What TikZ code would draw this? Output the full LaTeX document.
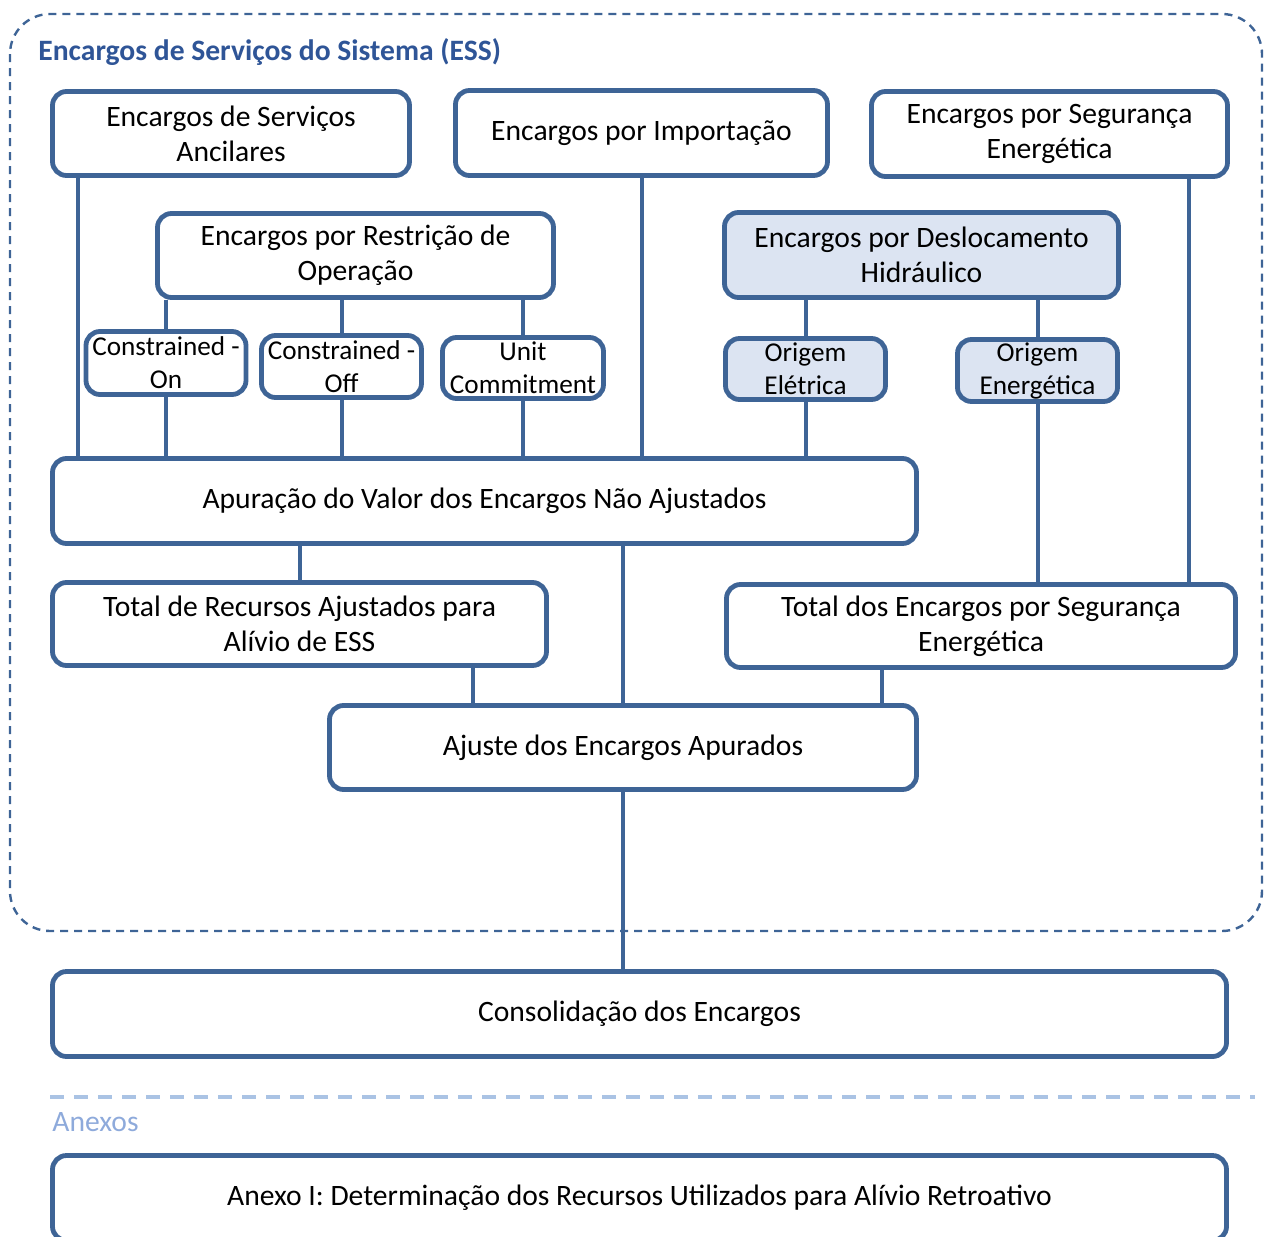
\documentclass[tikz,border=0pt]{standalone}
\usepackage{fontspec}
\setmainfont{Carlito}
\usetikzlibrary{positioning, calc}

\definecolor{essblue}{RGB}{62,100,150}
\definecolor{essfill}{RGB}{220,228,242}
\definecolor{esstitle}{RGB}{47,85,151}
\definecolor{essanx}{RGB}{142,170,219}
\definecolor{essline}{RGB}{170,195,228}

\begin{document}
\begin{tikzpicture}[
    x=0.5pt, y=-0.5pt,
    font=\fontsize{14.8}{17.5}\selectfont,
    box/.style={rectangle, draw=essblue, line width=2.4pt, rounded corners=7pt, align=center, inner sep=0pt},
    hbox/.style={box, fill=essfill},
    sbox/.style={font=\fontsize{13.6}{16.5}\selectfont},
    link/.style={draw=essblue, line width=2pt}
]

\useasboundingbox (0,0) rectangle (1264,1237);

% moldura ESS
\draw[essblue, line width=1.2pt, dash pattern=on 4pt off 3pt, rounded corners=20pt] (10,14) rectangle (1262,931);
\node[anchor=west, inner sep=0pt, text=esstitle, font=\fontsize{14.8}{17.5}\selectfont\bfseries] (tit) at (38,52) {Encargos de Serviços do Sistema (ESS)};

\node[box, minimum width=178.5pt, minimum height=42pt] (anc) at (231,133.5) {Encargos de Serviços\\Ancilares};
\node[box, minimum width=186pt, minimum height=42.5pt] (imp) at (641.5,133) {Encargos por Importação};
\node[box, minimum width=178pt, minimum height=42.5pt] (seg) at (1049.5,134) {Encargos por Segurança\\Energética};
\node[box, minimum width=198pt, minimum height=42pt] (res) at (355.5,255.5) {Encargos por Restrição de\\Operação};
\node[hbox, minimum width=197pt, minimum height=42.5pt] (des) at (921.5,255) {Encargos por Deslocamento\\Hidráulico};

\node[box, sbox, minimum width=80pt, minimum height=31.5pt] (con) at (166,363) {Constrained -\\On};
\node[box, sbox, minimum width=80pt, minimum height=31pt] (cof) at (341.5,366.5) {Constrained -\\Off};
\node[box, sbox, minimum width=80.5pt, minimum height=30.5pt] (uc) at (523,368) {Unit\\Commitment};
\node[hbox, sbox, minimum width=80pt, minimum height=30.5pt] (oel) at (805.5,369) {Origem\\Elétrica};
\node[hbox, sbox, minimum width=80pt, minimum height=31pt] (oen) at (1037.5,370.5) {Origem\\Energética};

\node[box, minimum width=432pt, minimum height=42.5pt] (apu) at (484.5,501) {Apuração do Valor dos Encargos Não Ajustados};
\node[box, minimum width=247pt, minimum height=41.5pt] (tra) at (299.5,624) {Total de Recursos Ajustados para\\Alívio de ESS};
\node[box, minimum width=254.5pt, minimum height=41.5pt] (tse) at (981,626) {Total dos Encargos por Segurança\\Energética};
\node[box, minimum width=293.5pt, minimum height=42pt] (aju) at (623,747.5) {Ajuste dos Encargos Apurados};

\node[box, minimum width=587pt, minimum height=42.5pt] (cns) at (639.5,1014) {Consolidação dos Encargos};

% anexos
\draw[essline, line width=2pt, dash pattern=on 7pt off 5pt] (50,1097) -- (1255,1097);
\node[anchor=west, inner sep=0pt, text=essanx] (anexos) at (52,1122) {Anexos};
\node[box, minimum width=587pt, minimum height=42.5pt] (anx) at (639.5,1198) {Anexo I: Determinação dos Recursos Utilizados para Alívio Retroativo};

% ligacoes
\draw[link] ([xshift=14pt]anc.south west) -- ([xshift=14pt]anc.south west |- apu.north);
\draw[link] (imp.south) -- (imp.south |- apu.north);
\draw[link] ([xshift=-20.5pt]seg.south east) -- ([xshift=-20.5pt]seg.south east |- tse.north);
\draw[link] (res.south -| con.north) -- (con.north);
\draw[link] (res.south -| cof.north) -- (cof.north);
\draw[link] (res.south -| uc.north) -- (uc.north);
\draw[link] (con.south) -- (con.south |- apu.north);
\draw[link] (cof.south) -- (cof.south |- apu.north);
\draw[link] (uc.south) -- (uc.south |- apu.north);
\draw[link] (des.south -| oel.north) -- (oel.north);
\draw[link] (des.south -| oen.north) -- (oen.north);
\draw[link] (oel.south) -- (oel.south |- apu.north);
\draw[link] (oen.south) -- (oen.south |- tse.north);
\draw[link] (apu.south -| tra.north) -- (tra.north);
\draw[link] (apu.south -| aju.north) -- (aju.north);
\draw[link] ([xshift=-38pt]tra.south east) -- ([xshift=-38pt]tra.south east |- aju.north);
\draw[link] ([xshift=79pt]tse.south west) -- ([xshift=79pt]tse.south west |- aju.north);
\draw[link] (aju.south) -- (aju.south |- cns.north);

\end{tikzpicture}
\end{document}
